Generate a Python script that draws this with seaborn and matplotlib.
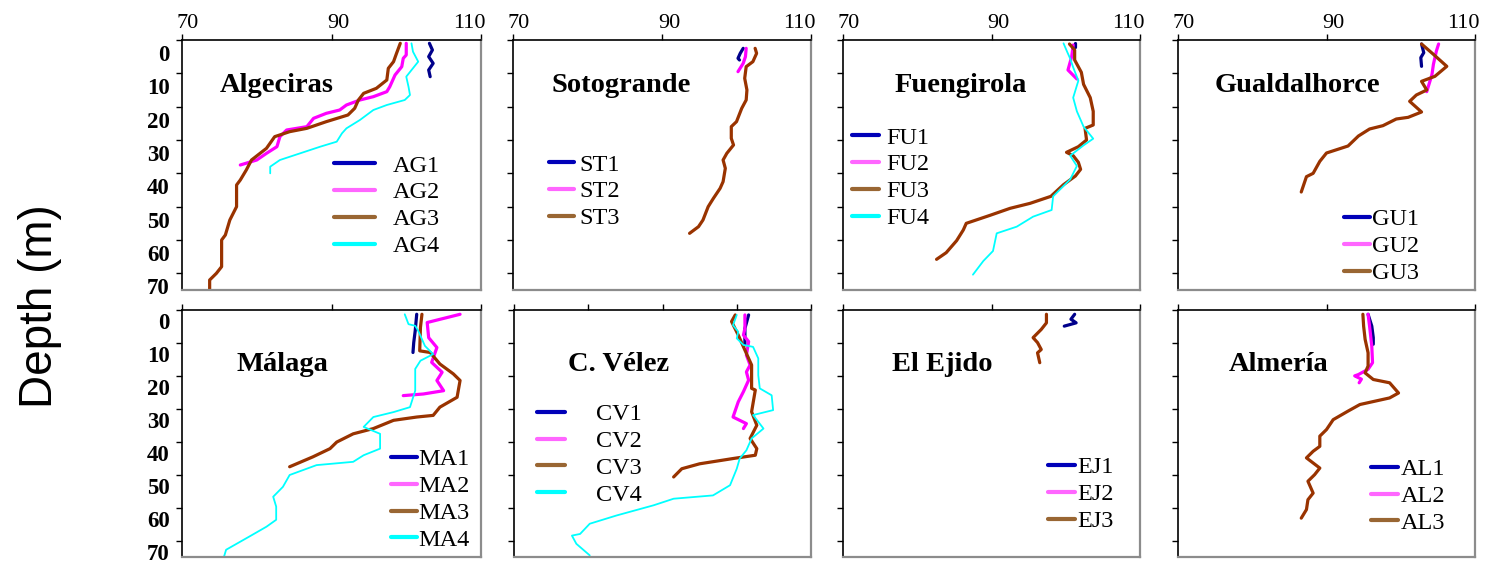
import matplotlib
matplotlib.use("Agg")
import matplotlib.pyplot as plt
import numpy as np
import pandas as pd
import seaborn as sns
from matplotlib.lines import Line2D
from matplotlib.transforms import ScaledTranslation

sns.set_theme(style="white")
plt.rcParams['font.family'] = ['Liberation Serif', 'DejaVu Serif']
plt.rcParams['text.color'] = 'black'
plt.rcParams['xtick.color'] = 'black'
plt.rcParams['ytick.color'] = 'black'
plt.rcParams['axes.labelcolor'] = 'black'

# ---------------- data (depth in m, value) ----------------
AG1_depth = [1, 3, 5, 7, 9, 11]
AG1_value = [103.1, 103.5, 103.0, 103.6, 103.0, 103.2]
AG2_depth = [1, 4.5, 5.5, 8, 10.5, 14, 15.5, 17, 18, 19.5, 21, 22, 23.5, 26, 27, 29, 32, 34, 36, 37.5]
AG2_value = [100.0, 100.0, 99.6, 99.4, 98.5, 97.8, 97.4, 95.6, 93.8, 92.0, 91.1, 89.3, 87.6, 86.7, 84.0, 83.1, 82.7, 81.3, 80.0, 77.8]
AG3_depth = [1, 4, 6.5, 8.5, 12, 14.5, 16, 18, 20.5, 22.5, 24.5, 26.5, 27.5, 29, 32.5, 36, 39, 42, 43.5, 50, 54, 58.5, 60, 68, 70, 72, 75]
AG3_value = [99.2, 98.7, 98.3, 97.6, 97.4, 96.0, 94.3, 93.6, 93.1, 92.2, 89.3, 86.7, 84.4, 82.4, 81.3, 79.3, 78.6, 77.8, 77.3, 77.3, 76.4, 75.8, 75.3, 75.3, 74.6, 73.7, 73.7]
AG4_depth = [1, 3.5, 6.5, 11, 14, 16.5, 18, 19.5, 21, 24, 26.5, 28, 30.5, 32, 34, 36, 38, 40]
AG4_value = [100.7, 100.9, 101.6, 100.0, 100.3, 100.5, 99.8, 97.4, 95.6, 93.8, 92.0, 91.4, 90.7, 88.5, 85.8, 83.1, 81.8, 81.8]

ST1_depth = [2.5, 4, 5.5, 6]
ST1_value = [100.9, 100.5, 100.2, 100.4]
ST2_depth = [2.5, 5, 7, 9.5]
ST2_value = [101.3, 101.2, 100.9, 100.2]
ST3_depth = [2.5, 4, 6.5, 8, 11.5, 15, 18, 20.5, 24.5, 26, 29.5, 31.5, 34, 36, 38.5, 42.5, 44.5, 47.5, 50, 54, 56, 58]
ST3_value = [102.5, 102.7, 102.2, 101.3, 101.1, 101.4, 101.3, 100.7, 100.0, 99.3, 99.3, 99.6, 98.7, 98.2, 98.5, 98.2, 97.8, 96.9, 96.2, 95.5, 94.9, 93.7]

FU1_depth = [1, 2]
FU1_value = [101.2, 101.2]
FU2_depth = [1.5, 5, 9, 11.7]
FU2_value = [101.0, 100.8, 100.3, 101.5]
FU3_depth = [1.2, 3, 6, 9.7, 13.3, 17.3, 21.4, 25.5, 26.5, 30, 32, 33.7, 34.7, 36.7, 38.8, 40.8, 43.4, 46.9, 49, 50.5, 52.6, 55, 57, 60.2, 63.8, 65.8]
FU3_value = [100.5, 101.2, 101.2, 102.1, 102.4, 103.3, 103.7, 103.7, 102.6, 102.8, 101.7, 100.1, 101.0, 101.7, 102.0, 101.3, 99.7, 98.0, 95.2, 92.5, 89.8, 86.6, 86.2, 85.3, 83.9, 82.6]
FU4_depth = [1, 3.6, 5.6, 8.2, 12.2, 17.3, 21.4, 26, 29.6, 31.6, 34.7, 37.8, 41.8, 46.9, 51, 53, 56, 58, 63.3, 66.3, 70.4]
FU4_value = [99.7, 100.2, 100.6, 101.0, 101.7, 101.0, 101.5, 102.4, 103.7, 102.4, 100.6, 101.5, 100.6, 98.3, 98.1, 95.6, 93.4, 90.7, 90.2, 88.9, 87.5]

GU1_depth = [1.2, 3.8, 5.3, 7.9]
GU1_value = [102.8, 103.1, 102.7, 102.8]
GU2_depth = [1.2, 3.3, 7.3, 10.4, 15.5]
GU2_value = [105.1, 104.8, 104.4, 104.2, 103.5]
GU3_depth = [1.2, 4.3, 7.9, 10.9, 12.4, 15, 16.5, 18.4, 21.6, 23.2, 23.7, 25.7, 26.7, 28.8, 31.8, 33.9, 36.4, 40, 41, 45.6]
GU3_value = [102.8, 104.4, 106.2, 104.6, 102.8, 103.5, 102.1, 101.2, 102.8, 101.0, 99.4, 97.6, 95.8, 94.3, 92.9, 90.0, 89.1, 88.2, 87.3, 86.6]

MA1_depth = [1.3, 6.3, 9.9, 12.9]
MA1_value = [101.4, 101.2, 101.0, 100.9]
MA2_depth = [1.3, 3.8, 8.4, 11.4, 15.9, 18.9, 21.4, 24.5, 25.5, 26]
MA2_value = [107.2, 102.8, 103.0, 104.1, 103.4, 104.8, 104.1, 105.0, 102.3, 99.6]
MA3_depth = [1.3, 5.3, 12.4, 12.9, 16.4, 19.4, 21.4, 26.5, 29.5, 32, 32.5, 33.5, 36, 37.6, 40.1, 42.1, 44.6, 47.6]
MA3_value = [102.1, 101.9, 101.8, 103.2, 104.5, 106.3, 107.2, 106.8, 104.5, 103.6, 101.4, 98.3, 95.6, 92.9, 90.7, 89.8, 87.5, 84.4]
MA4_depth = [1.3, 4.3, 4.8, 6.3, 10.9, 13.4, 15.4, 17.9, 24.5, 29.5, 31, 32.5, 35.5, 37.6, 42.1, 44.1, 46.1, 47.1, 50.1, 53.7, 56.7, 59.7, 63.7, 65.8, 68.8, 72.8, 75.8]
MA4_value = [99.8, 100.3, 101.2, 101.6, 102.5, 103.6, 101.9, 101.2, 101.2, 100.5, 98.3, 95.6, 94.3, 96.5, 96.5, 94.3, 92.9, 88.0, 84.4, 83.5, 82.2, 82.6, 82.6, 81.3, 79.0, 75.9, 75.5]

CV1_depth = [1.5, 5.6, 10.6]
CV1_value = [101.6, 101.1, 101.1]
CV2_depth = [1.5, 5.6, 7.6, 9.6, 13.7, 16.7, 18.8, 21.3, 24.8, 27.9, 32.5, 33.5, 34.5, 36]
CV2_value = [101.1, 101.1, 100.9, 101.6, 101.3, 101.8, 101.3, 101.6, 100.9, 100.2, 99.5, 100.4, 101.3, 100.9]
CV3_depth = [1.5, 3.5, 7.6, 13.2, 16.7, 23.8, 24.3, 30.9, 35, 39, 42.1, 44.1, 45.1, 46.7, 48.2, 50.7]
CV3_value = [99.8, 99.3, 100.2, 101.3, 102.0, 102.0, 102.5, 102.0, 102.7, 101.8, 102.7, 102.5, 99.5, 95.0, 92.6, 91.5]
CV4_depth = [1.5, 4.6, 6.6, 8.6, 10.6, 11.2, 14.7, 19.8, 23.8, 25.9, 30.4, 31.9, 36, 39, 42.6, 45.1, 48.2, 53.2, 56.3, 57.3, 59.3, 62.4, 64.9, 68, 68.5, 71, 74.5]
CV4_value = [100.0, 99.5, 100.2, 100.0, 100.9, 102.2, 102.9, 102.9, 103.1, 104.7, 104.9, 102.2, 103.6, 102.0, 101.3, 100.4, 100.0, 99.1, 96.8, 91.5, 88.8, 83.8, 80.2, 78.9, 77.8, 78.4, 80.2]

EJ1_depth = [1.3, 2.8, 3.9, 4.9]
EJ1_value = [101.2, 100.7, 101.4, 99.8]
EJ2_depth = []
EJ2_value = []
EJ3_depth = [1.3, 3.9, 5.9, 8.4, 9.9, 12, 13, 16]
EJ3_value = [97.4, 97.4, 96.7, 95.6, 96.2, 96.7, 96.2, 96.5]

AL1_depth = [1.3, 4.9, 8.4, 10.4]
AL1_value = [95.6, 96.1, 96.3, 96.3]
AL2_depth = [1.3, 4.9, 11, 16, 18, 19.6, 20, 21, 22.1]
AL2_value = [95.6, 95.8, 96.1, 96.2, 95.6, 94.3, 93.8, 94.7, 94.4]
AL3_depth = [1.3, 4.9, 8.9, 13, 17, 19.1, 21.1, 22.1, 25.2, 26.7, 28.7, 30.7, 33.3, 36.3, 38.3, 41.4, 42.9, 44.9, 48, 50, 52, 55.6, 57.6, 60.6, 63.2]
AL3_value = [94.9, 95.0, 95.2, 95.6, 95.6, 95.2, 96.3, 98.5, 99.7, 98.5, 94.5, 92.9, 90.9, 90.0, 89.1, 89.1, 88.2, 87.3, 89.1, 88.4, 87.5, 88.2, 87.5, 87.3, 86.6]

station_names = ["Algeciras", "Sotogrande", "Fuengirola", "Gualdalhorce",
                 "Málaga", "C. Vélez", "El Ejido", "Almería"]
station_codes = ["AG", "ST", "FU", "GU", "MA", "CV", "EJ", "AL"]
station_counts = [4, 3, 4, 3, 4, 4, 3, 3]
x_ticks = [70, 90, 110]
y_ticks = [0, 10, 20, 30, 40, 50, 60, 70]

# ---------------- styling ----------------
line_colors = ["#00008b", "#ff00ff", "#993300", "#00ffff"]
legend_colors = ["#0000b8", "#ff66ff", "#996633", "#00ffff"]
line_widths = [2.3, 2.3, 2.3, 1.3]

# panel geometry in pixels: (left, top, width, height)
W, H = 1486, 563
panel_px = [(182, 40, 299, 250), (513, 40, 298, 250), (843, 40, 297, 250), (1178, 40, 297, 250),
            (182, 310, 299, 247), (514, 310, 297, 247), (843, 310, 297, 247), (1178, 310, 297, 247)]
title_pos = [(0.127, 0.82), (0.13, 0.82), (0.175, 0.82), (0.125, 0.82),
             (0.183, 0.78), (0.183, 0.78), (0.164, 0.78), (0.17, 0.78)]
legend_pos = [(0.51, 0.542), (0.12, 0.546), (0.03, 0.654), (0.56, 0.327),
              (0.70, 0.440), (0.076, 0.623), (0.69, 0.407), (0.65, 0.400)]
legend_hlen = [1.65, 1.05, 1.1, 1.05, 1.05, 1.15, 1.1, 1.1]
legend_pad = [0.74, 0.2, 0.3, 0.1, 0.05, 1.3, 0.12, 0.12]
xlabel_shift_px = {70: 6, 90: 7, 110: -12}

g = globals()
rows = []
for code, n in zip(station_codes, station_counts):
    for k in range(1, n + 1):
        name = f"{code}{k}"
        for d, v in zip(g[f"{name}_depth"], g[f"{name}_value"]):
            rows.append({"station": code, "series": name, "idx": k - 1, "depth": d, "value": v})
df = pd.DataFrame(rows)

fig = plt.figure(figsize=(W / 100, H / 100), dpi=100)

for i, (sname, code, n) in enumerate(zip(station_names, station_codes, station_counts)):
    l, t, w, h = panel_px[i]
    ax = fig.add_axes([l / W, 1 - (t + h) / H, w / W, h / H])
    sub = df[df.station == code]
    for k in range(n):
        s = sub[sub.idx == k]
        if len(s):
            sns.lineplot(data=s, x="value", y="depth", ax=ax, sort=False, estimator=None,
                         color=line_colors[k], linewidth=line_widths[k], legend=False)
    ax.set_xlim(70, 110)
    ax.set_ylim(75, 0)
    ax.set_xlabel("")
    ax.set_ylabel("")
    ax.xaxis.tick_top()
    if code == "CV":
        ax.set_xticks([70, 80, 90, 100, 110])
    else:
        ax.set_xticks(x_ticks)
    ax.set_yticks(y_ticks)
    ax.tick_params(axis="both", direction="out", length=4, width=1, color="black",
                   top=True, bottom=False, left=True, right=False)
    if i < 4:
        ax.set_xticklabels([str(v) for v in x_ticks], fontsize=16)
        ax.tick_params(axis="x", pad=1)
        for v, lab in zip(x_ticks, ax.get_xticklabels()):
            lab.set_transform(lab.get_transform() +
                              ScaledTranslation(xlabel_shift_px[v] / 100, 0, fig.dpi_scale_trans))
    else:
        ax.set_xticklabels([])
    if i in (0, 4):
        ax.set_yticklabels([str(v) for v in y_ticks], fontsize=16.5, fontweight="bold")
        ax.tick_params(axis="y", pad=5)
        off = ScaledTranslation(0, -0.13 if i == 0 else -0.11, fig.dpi_scale_trans)
        for lab in ax.get_yticklabels():
            lab.set_transform(lab.get_transform() + off)
    else:
        ax.set_yticklabels([])
    for side in ("top", "left"):
        ax.spines[side].set_color("black")
        ax.spines[side].set_linewidth(1.2)
    for side in ("right", "bottom"):
        ax.spines[side].set_color("#8c8c8c")
        ax.spines[side].set_linewidth(1.6)
    ax.grid(False)
    ax.text(title_pos[i][0], title_pos[i][1], sname, transform=ax.transAxes,
            fontsize=20.5, fontweight="bold", ha="left", va="center")
    handles = [Line2D([0], [0], color=legend_colors[k], lw=3) for k in range(n)]
    labels = [f"{code}{k + 1}" for k in range(n)]
    ax.legend(handles, labels, loc="upper left", bbox_to_anchor=legend_pos[i],
              frameon=False, fontsize=17.5, handlelength=legend_hlen[i],
              handletextpad=legend_pad[i], labelspacing=0.2, borderpad=0, borderaxespad=0)

fig.text(40 / W, 1 - 306.5 / H, "Depth (m)", rotation=90, ha="center", va="center",
         fontsize=33, family="Liberation Sans")

fig.savefig("out.png", dpi=100)
